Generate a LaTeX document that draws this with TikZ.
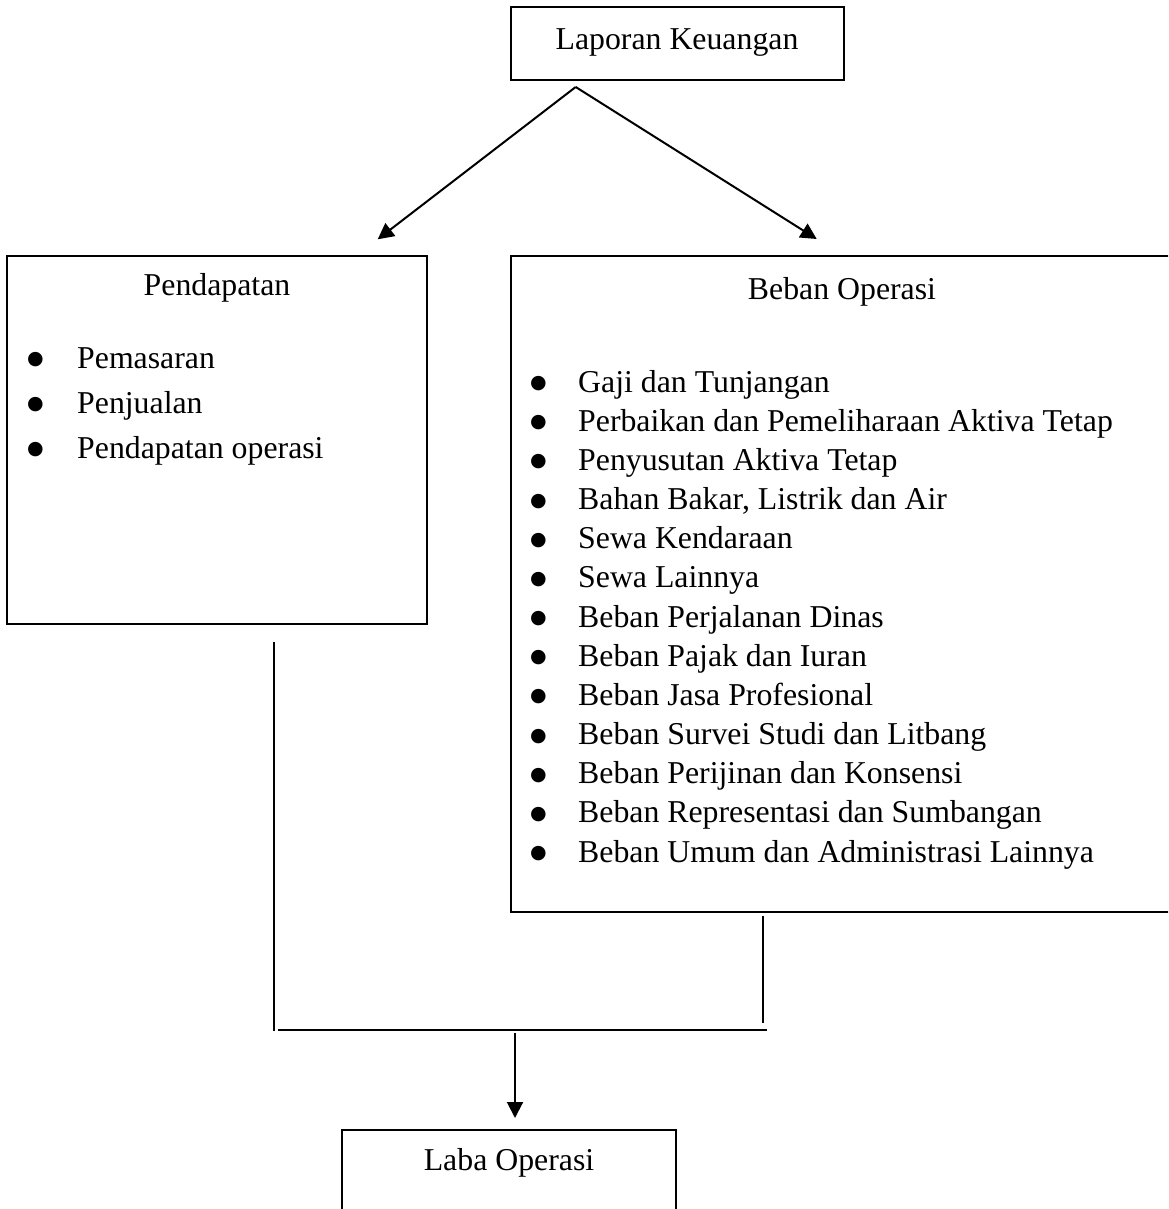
\documentclass[tikz,border=0pt]{standalone}
\usepackage{fontspec}
\setmainfont{Liberation Serif}
\newfontfamily\bulfont{DejaVu Sans}
\usetikzlibrary{arrows.meta}
\newcommand{\bigbul}{\raisebox{3.5pt}{\bulfont\fontsize{19}{19}\selectfont ●}}
\begin{document}
\begin{tikzpicture}[x=1pt,y=-1pt,
  box/.style={draw, line width=2pt, rectangle, inner sep=0pt, outer sep=0pt, anchor=north west},
  txt/.style={inner sep=0pt, font=\fontsize{31.8}{38}\selectfont},
  conn/.style={line width=2pt},
  arr/.style={conn, -{Triangle[length=16pt,width=16pt]}}]
\clip (0,0) rectangle (1168,1209);
% boxes
\node[box, minimum width=333pt, minimum height=73pt] (lapbox) at (511,7) {};
\node[box, minimum width=420pt, minimum height=368pt] (pbox) at (7,256) {};
\node[box, minimum width=700pt, minimum height=656pt] (bbox) at (511,256) {};
\node[box, minimum width=334pt, minimum height=120pt] (lbox) at (342,1130) {};
% titles
\node[txt, anchor=base] (laptitle) at (677,50) {Laporan Keuangan};
\node[txt, anchor=base] (ptitle) at (217,295) {Pendapatan};
\node[txt, anchor=base] (btitle) at (842,299) {Beban Operasi};
\node[txt, anchor=base] (ltitle) at (509,1170) {Laba Operasi};
% lists
\node[inner sep=0pt, anchor=base west, font=\fontsize{31.8}{45}\selectfont] (plist) at (27,368)
  {\begin{tabular}[t]{@{}p{50pt}@{}l@{}}
   \bigbul & Pemasaran\\
   \bigbul & Penjualan\\
   \bigbul & Pendapatan operasi
   \end{tabular}};
\node[inner sep=0pt, anchor=base west, font=\fontsize{31.8}{39.17}\selectfont] (blist) at (530,392)
  {\begin{tabular}[t]{@{}p{48pt}@{}l@{}}
   \bigbul & Gaji dan Tunjangan\\
   \bigbul & Perbaikan dan Pemeliharaan Aktiva Tetap\\
   \bigbul & Penyusutan Aktiva Tetap\\
   \bigbul & Bahan Bakar, Listrik dan Air\\
   \bigbul & Sewa Kendaraan\\
   \bigbul & Sewa Lainnya\\
   \bigbul & Beban Perjalanan Dinas\\
   \bigbul & Beban Pajak dan Iuran\\
   \bigbul & Beban Jasa Profesional\\
   \bigbul & Beban Survei Studi dan Litbang\\
   \bigbul & Beban Perijinan dan Konsensi\\
   \bigbul & Beban Representasi dan Sumbangan\\
   \bigbul & Beban Umum dan Administrasi Lainnya
   \end{tabular}};
% connector points
\coordinate (split) at (575.7,87);
\coordinate (ptip) at (377.7,239.3);
\coordinate (btip) at (816.7,239);
\coordinate (ljtop) at (274,642);
\coordinate (ljbot) at (274,1031);
\coordinate (rjtop) at (763,916);
\coordinate (rjbot) at (763,1023);
\coordinate (hjl) at (278,1030);
\coordinate (hjr) at (767,1030);
\coordinate (dntop) at (515,1033);
\coordinate (dntip) at (515,1118);
% connectors
\draw[arr] (split) -- (ptip);
\draw[arr] (split) -- (btip);
\draw[conn] (ljtop) -- (ljbot);
\draw[conn] (rjtop) -- (rjbot);
\draw[conn] (hjl) -- (hjr);
\draw[arr] (dntop) -- (dntip);
\end{tikzpicture}
\end{document}
